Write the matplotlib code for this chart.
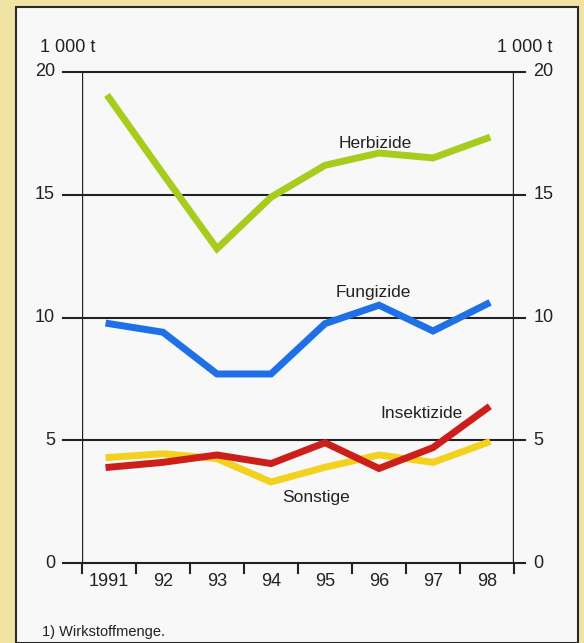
import matplotlib
matplotlib.use("Agg")
import matplotlib.pyplot as plt
from matplotlib.patches import Rectangle

years = ["1991", "92", "93", "94", "95", "96", "97", "98"]
herbizide = [18.95, 15.85, 12.8, 14.9, 16.2, 16.7, 16.5, 17.3]
fungizide = [9.75, 9.4, 7.7, 7.7, 9.75, 10.5, 9.45, 10.55]
insektizide = [3.9, 4.1, 4.4, 4.05, 4.9, 3.85, 4.7, 6.3]
sonstige = [4.3, 4.45, 4.25, 3.3, 3.9, 4.4, 4.1, 4.9]
yticks = [0, 5, 10, 15, 20]

plt.rcParams['font.family'] = ['Liberation Sans', 'DejaVu Sans']

fig = plt.figure(figsize=(5.84, 6.43), dpi=100, facecolor='#f1e3a4')
fig.patches.append(Rectangle((16/584, 0), (578-16)/584, 1-7/643, transform=fig.transFigure,
                             facecolor='#f7f8f7', edgecolor='#2a2a2a', linewidth=1.5, zorder=-10))

ax = fig.add_axes([82/584, 1-563/643, (514-82)/584, (563-72)/643])
ax.set_facecolor('none')
ax.set_zorder(5)
x = list(range(len(years)))
n = len(years)

ax.plot(x, sonstige, color='#f2d21e', lw=5, solid_joinstyle='miter', zorder=3)
ax.plot(x, insektizide, color='#cc1f1a', lw=5, solid_joinstyle='miter', zorder=4)
ax.plot(x, fungizide, color='#1f6fe6', lw=5, solid_joinstyle='miter', zorder=3)
ax.plot(x, herbizide, color='#a8cc1e', lw=5, solid_joinstyle='miter', zorder=3)

ax.set_xlim(-0.5, n - 0.5)
ax.set_ylim(0, 20)

# horizontal grid lines extending beyond the axes
for v in yticks:
    ax.plot([-0.85, n - 0.5 + 0.2], [v, v], color='#222222', lw=1.5,
            clip_on=False, zorder=2)
for xs in [-0.5, n - 0.5]:
    ax.plot([xs, xs], [0, 20], color='#222222', lw=1.7, zorder=2)

for s in ax.spines.values():
    s.set_visible(False)

ax.set_yticks([])
ax.set_xticks([])
for v in yticks:
    ax.text(-1.0, v, str(v), ha='right', va='center', fontsize=13, color='#222222')
    ax.text(n - 0.5 + 0.36, v, str(v), ha='left', va='center', fontsize=13, color='#222222')

# x tick marks at boundaries, labels centered
for b in range(n + 1):
    ax.plot([b - 0.5, b - 0.5], [0, -0.42], color='#222222', lw=1.5, clip_on=False)
for i, lab in enumerate(years):
    ax.text(i, -0.4, lab, ha='center', va='top', fontsize=13, color='#222222')

ax.text(-0.76, 20.98, "1 000 t", ha='center', va='center', fontsize=13, color='#222222')
ax.text(n - 0.5 + 0.2, 20.98, "1 000 t", ha='center', va='center', fontsize=13, color='#222222')

ax.text(4.93, 17.1, "Herbizide", ha='center', va='center', fontsize=12.5, color='#222222')
ax.text(4.9, 11.0, "Fungizide", ha='center', va='center', fontsize=12.5, color='#222222')
ax.text(5.78, 6.1, "Insektizide", ha='center', va='center', fontsize=12.5, color='#222222')
ax.text(3.83, 2.68, "Sonstige", ha='center', va='center', fontsize=12.5, color='#222222')

fig.text(42/584, 1-632/643, "1) Wirkstoffmenge.", ha='left', va='center', fontsize=10.5, color='#222222')

fig.savefig("out.png", dpi=100, facecolor=fig.get_facecolor())
